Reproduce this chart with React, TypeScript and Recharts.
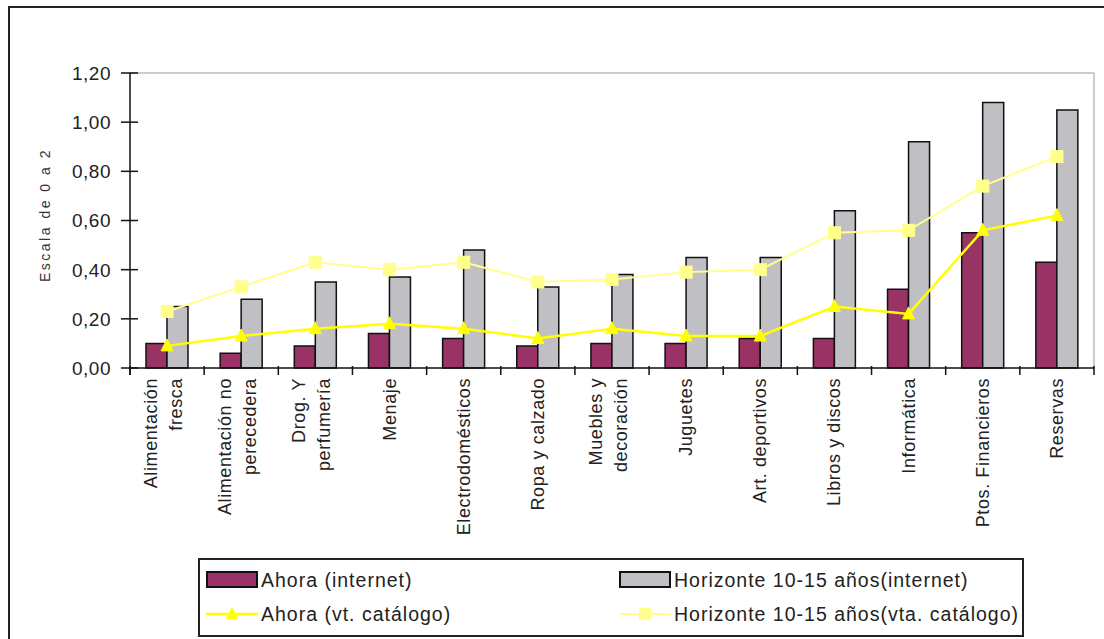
import { ComposedChart, Bar, Line, XAxis, YAxis, CartesianGrid } from 'recharts';

const categories = [
  'Alimentación\nfresca',
  'Alimentación no\nperecedera',
  'Drog. Y\nperfumería',
  'Menaje',
  'Electrodomésticos',
  'Ropa y calzado',
  'Muebles y\ndecoración',
  'Juguetes',
  'Art. deportivos',
  'Libros y discos',
  'Informática',
  'Ptos. Financieros',
  'Reservas',
];

const ahoraInternet = [0.1, 0.06, 0.09, 0.14, 0.12, 0.09, 0.1, 0.1, 0.12, 0.12, 0.32, 0.55, 0.43];
const horizonteInternet = [0.25, 0.28, 0.35, 0.37, 0.48, 0.33, 0.38, 0.45, 0.45, 0.64, 0.92, 1.08, 1.05];
const ahoraCatalogo = [0.09, 0.13, 0.16, 0.18, 0.16, 0.12, 0.16, 0.13, 0.13, 0.25, 0.22, 0.56, 0.62];
const horizonteCatalogo = [0.23, 0.33, 0.43, 0.4, 0.43, 0.35, 0.36, 0.39, 0.4, 0.55, 0.56, 0.74, 0.86];

const yTicks = [0, 0.2, 0.4, 0.6, 0.8, 1.0, 1.2];

const seriesNames = [
  'Ahora (internet)',
  'Horizonte 10-15 años(internet)',
  'Ahora (vt. catálogo)',
  'Horizonte 10-15 años(vta. catálogo)',
];

const MAROON = '#993366';
const SILVER = '#c0c0c4';
const YELLOW = '#ffff00';
const PALE = '#ffff8c';
const FONT = '"Liberation Sans", Arial, sans-serif';

const data = categories.map((name, i) => ({
  name,
  ahoraInternet: ahoraInternet[i],
  horizonteInternet: horizonteInternet[i],
  ahoraCatalogo: ahoraCatalogo[i],
  horizonteCatalogo: horizonteCatalogo[i],
}));

function ValueTick(props: any) {
  const { x, y, payload } = props;
  return (
    <g>
      <line x1={x - 9} x2={x + 8} y1={y} y2={y} stroke="#111" strokeWidth={1.5} />
      {payload.value === 0 && <line x1={x} x2={x} y1={y} y2={y + 7} stroke="#111" strokeWidth={1.5} />}
      <text
        x={x - 19}
        y={y}
        dy="0.36em"
        textAnchor="end"
        fontSize={19}
        fontFamily={FONT}
        letterSpacing={0.5}
        fill="#222"
      >
        {Number(payload.value).toFixed(2).replace('.', ',')}
      </text>
    </g>
  );
}

function CategoryTick(props: any) {
  const { x, y, payload, index, visibleTicksCount, width } = props;
  const half = payload.offset ?? width / visibleTicksCount / 2;
  const lines = String(payload.value).split('\n');
  const offs = lines.length === 1 ? [6] : [-10, 15];
  return (
    <g>
      <line x1={x - half} x2={x - half} y1={y - 2} y2={y + 7} stroke="#111" strokeWidth={1.5} />
      {index === visibleTicksCount - 1 && (
        <line x1={x + half} x2={x + half} y1={y - 2} y2={y + 7} stroke="#111" strokeWidth={1.5} />
      )}
      <text
        transform={`translate(${x},${y + 10}) rotate(-90)`}
        textAnchor="end"
        fontSize={18}
        fontFamily={FONT}
        letterSpacing={0.6}
        fill="#222"
      >
        {lines.map((l, i) => (
          <tspan key={i} x={0} y={offs[i]}>
            {l}
          </tspan>
        ))}
      </text>
    </g>
  );
}

function TriangleDot(props: any) {
  const { cx, cy } = props;
  if (cx == null || cy == null) return <g />;
  return (
    <polygon
      points={`${cx},${cy - 7} ${cx - 6},${cy + 5} ${cx + 6},${cy + 5}`}
      fill={YELLOW}
      stroke={YELLOW}
    />
  );
}

function SquareDot(props: any) {
  const { cx, cy } = props;
  if (cx == null || cy == null) return <g />;
  return <rect x={cx - 6} y={cy - 6} width={12} height={12} fill={PALE} stroke={PALE} />;
}

function LegendIcon({ kind }: { kind: number }) {
  return (
    <svg width={52} height={18} style={{ display: 'block' }}>
      {kind === 0 && <rect x={1} y={1} width={50} height={15} fill={MAROON} stroke="#111" strokeWidth={2} />}
      {kind === 1 && <rect x={1} y={1} width={50} height={15} fill={SILVER} stroke="#111" strokeWidth={2} />}
      {kind === 2 && (
        <g>
          <line x1={0} x2={52} y1={9} y2={9} stroke={YELLOW} strokeWidth={2.5} />
          <polygon points="26,2 20,14 32,14" fill={YELLOW} />
        </g>
      )}
      {kind === 3 && (
        <g>
          <line x1={0} x2={52} y1={9} y2={9} stroke={PALE} strokeWidth={2} />
          <rect x={20} y={3} width={12} height={12} fill={PALE} />
        </g>
      )}
    </svg>
  );
}

const legendPos = [
  { left: 6, top: 10 },
  { left: 419, top: 10 },
  { left: 6, top: 44 },
  { left: 419, top: 44 },
];

export default function App() {
  return (
    <div
      style={{
        position: 'absolute',
        left: 0,
        top: 0,
        width: 1104,
        height: 639,
        overflow: 'hidden',
        background: '#fff',
        fontFamily: FONT,
      }}
    >
      <div
        style={{
          position: 'absolute',
          left: 8,
          top: 6,
          width: 1120,
          height: 660,
          border: '2px solid #222',
          boxSizing: 'border-box',
        }}
      />
      <div style={{ position: 'absolute', left: 0, top: 0 }}>
        <ComposedChart
          width={1104}
          height={639}
          data={data}
          margin={{ top: 73, right: 10, bottom: 0, left: 0 }}
          barGap={0}
        >
          <CartesianGrid
            stroke="#999"
            strokeWidth={1}
            horizontalCoordinatesGenerator={({ offset }: any) => [offset.top]}
            verticalCoordinatesGenerator={({ offset }: any) => [offset.left + offset.width]}
          />
          <XAxis
            dataKey="name"
            type="category"
            height={271}
            interval={0}
            tickLine={false}
            tickSize={0}
            tickMargin={0}
            axisLine={{ stroke: '#111', strokeWidth: 1.5 }}
            tick={<CategoryTick />}
          />
          <YAxis
            type="number"
            domain={[0, 1.2]}
            ticks={yTicks}
            width={130}
            interval={0}
            tickLine={false}
            tickSize={0}
            tickMargin={0}
            axisLine={{ stroke: '#111', strokeWidth: 1.5 }}
            tick={<ValueTick />}
          />
          <Bar
            dataKey="ahoraInternet"
            name={seriesNames[0]}
            fill={MAROON}
            stroke="#111"
            strokeWidth={1.5}
            barSize={21}
            isAnimationActive={false}
          />
          <Bar
            dataKey="horizonteInternet"
            name={seriesNames[1]}
            fill={SILVER}
            stroke="#111"
            strokeWidth={1.5}
            barSize={21}
            isAnimationActive={false}
          />
          <Line
            dataKey="horizonteCatalogo"
            name={seriesNames[3]}
            stroke={PALE}
            strokeWidth={2}
            dot={<SquareDot />}
            activeDot={false}
            isAnimationActive={false}
          />
          <Line
            dataKey="ahoraCatalogo"
            name={seriesNames[2]}
            stroke={YELLOW}
            strokeWidth={2.5}
            dot={<TriangleDot />}
            activeDot={false}
            isAnimationActive={false}
          />
        </ComposedChart>
      </div>
      <div
        style={{
          position: 'absolute',
          left: 45,
          top: 215,
          width: 200,
          marginLeft: -100,
          marginTop: -9,
          textAlign: 'center',
          transform: 'rotate(-90deg)',
          fontSize: 14,
          letterSpacing: 2.5,
          color: '#333',
          lineHeight: '18px',
          whiteSpace: 'nowrap',
        }}
      >
        Escala de 0 a 2
      </div>
      <div
        style={{
          position: 'absolute',
          left: 198,
          top: 558,
          width: 826,
          height: 79,
          border: '2px solid #222',
          boxSizing: 'border-box',
          background: '#fff',
        }}
      >
        {seriesNames.map((name, i) => (
          <div
            key={name}
            style={{
              position: 'absolute',
              left: legendPos[i].left,
              top: legendPos[i].top,
              display: 'flex',
              alignItems: 'center',
              whiteSpace: 'nowrap',
            }}
          >
            <LegendIcon kind={i} />
            <span
              style={{
                marginLeft: 3,
                fontSize: 19.5,
                letterSpacing: 1,
                color: '#222',
                lineHeight: '20px',
              }}
            >
              {name}
            </span>
          </div>
        ))}
      </div>
    </div>
  );
}
